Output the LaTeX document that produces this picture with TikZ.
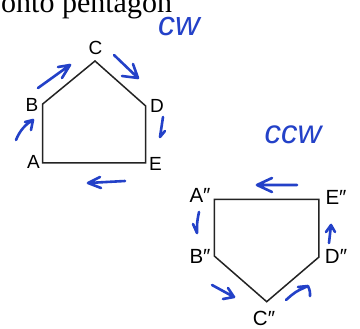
\documentclass[tikz,border=0pt]{standalone}
\usepackage{fontspec}
\setmainfont{Liberation Serif}
\newfontfamily\labfont{Liberation Sans}
\definecolor{pen}{RGB}{35,65,200}
\definecolor{ink}{RGB}{35,35,35}
\begin{document}
\begin{tikzpicture}[x=1pt,y=-1pt,
  edge/.style={draw=ink,line width=1.5pt,line join=miter},
  lab/.style={font=\labfont\fontsize{19}{21}\selectfont,inner sep=0pt,text=black},
  labb/.style={font=\labfont\fontsize{20.5}{22}\selectfont,inner sep=0pt,text=black},
  hand/.style={draw=pen,line width=2.6pt,line cap=round,line join=round},
  handtext/.style={text=pen,inner sep=0pt}]
\useasboundingbox (0,0) rectangle (360,329);
\fill[white] (0,0) rectangle (360,329);

% heading (cut at top)
\node[anchor=base west,inner sep=0pt,font=\fontsize{30}{32}\selectfont] (head) at (1,13) {onto pentagon};

% first pentagon
\coordinate (A) at (42.7,163);
\coordinate (B) at (42.7,104);
\coordinate (C) at (95,61);
\coordinate (D) at (145.7,106);
\coordinate (E) at (145.7,163);
\draw[edge] (A) -- (B) -- (C) -- (D) -- (E) -- cycle;
\node[lab] (lA) at (33.5,162) {A};
\node[lab] (lB) at (32,105) {B};
\node[lab] (lC) at (95.5,48) {C};
\node[lab] (lD) at (157,106) {D};
\node[lab] (lE) at (155.5,164) {E};

% second pentagon
\coordinate (A2) at (214.3,199.3);
\coordinate (E2) at (319,199.3);
\coordinate (D2) at (319,257);
\coordinate (C2) at (266.7,301.7);
\coordinate (B2) at (214.3,256);
\draw[edge] (A2) -- (B2) -- (C2) -- (D2) -- (E2) -- cycle;
\node[labb] (lA2) at (200,195.5) {A″};
\node[labb] (lE2) at (336,197) {E″};
\node[labb] (lB2) at (200,256) {B″};
\node[labb] (lD2) at (336,256) {D″};
\node[labb] (lC2) at (264,318) {C″};

% handwritten labels
\node[handtext,font=\labfont\itshape\fontsize{34}{36}\selectfont] (cw) at (179,27) {cw};
\node[handtext,font=\labfont\itshape\fontsize{33}{35}\selectfont] (ccw) at (293,135) {ccw};

% clockwise arrows
\draw[hand] (16,140) .. controls (20,130) and (26,124) .. (33,120)
  (33,120) -- (25,122) (33,120) -- (31,130);
\draw[hand] (38,88) -- (70,65)
  (70,65) -- (58,67) (70,65) .. controls (66,72) .. (62,78);
\draw[hand] (114,55) -- (138,78)
  (138,78) -- (133,64) (138,78) -- (122,76);
\draw[hand] (163,117) .. controls (162,127) .. (160,137) -- (165,131);
\draw[hand] (125,181) -- (88,183)
  (88,183) -- (100,177) (88,183) -- (101,188);

% counter-clockwise arrows
\draw[hand] (297,185) -- (257,185)
  (257,185) -- (272,178) (257,185) -- (272,192);
\draw[hand] (199,212) .. controls (197,222) .. (197,233) -- (193,224);
\draw[hand] (212,285) -- (234,297)
  (234,297) -- (228,288) (234,297) -- (223,299);
\draw[hand] (286,300) .. controls (295,292) .. (308,286)
  (308,286) -- (298,287) (308,286) .. controls (310,291) .. (310,296);
\draw[hand] (329,243) -- (331,225)
  (331,225) -- (326,232) (331,225) -- (335,232);
\end{tikzpicture}
\end{document}
